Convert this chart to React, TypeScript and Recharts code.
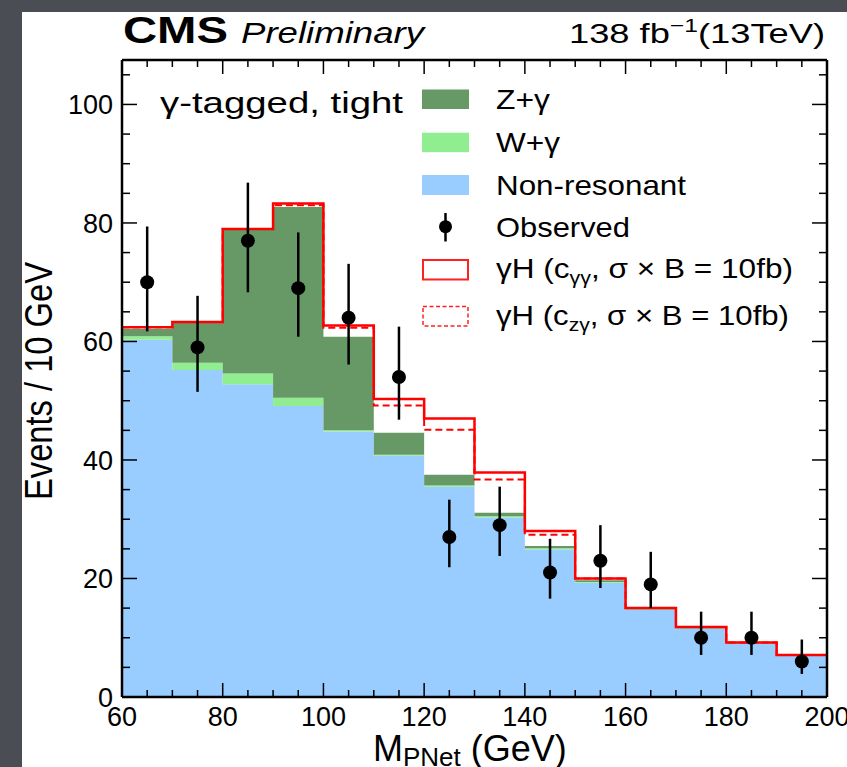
import React from "react";
import { ComposedChart, Area, Line, Scatter, ErrorBar, XAxis, YAxis, Legend } from "recharts";

// bin low edges (10 GeV bins)
const binEdges = [60, 70, 80, 90, 100, 110, 120, 130, 140, 150, 160, 170, 180, 190];
const nonResonant = [60.3, 55.2, 52.8, 49.1, 44.8, 40.7, 35.5, 30.3, 24.9, 19.3, 14.7, 11.5, 9.0, 6.9];
const wGamma = [0.6, 1.2, 1.8, 1.4, 0.2, 0.2, 0.2, 0.2, 0.2, 0.1, 0.05, 0.05, 0.05, 0.05];
const zGamma = [1.2, 6.7, 24.2, 32.2, 15.8, 3.7, 1.8, 0.6, 0.4, 0.3, 0.1, 0.1, 0.1, 0.05];
// background + signal (stacked totals)
const totalCgg = [62.4, 63.3, 79.0, 83.3, 62.7, 50.3, 47.0, 37.9, 28.0, 20.0, 15.0, 11.8, 9.2, 7.1];
const totalCzg = [62.4, 63.3, 79.0, 83.0, 62.3, 49.2, 45.1, 36.7, 27.4, 20.0, 15.0, 11.8, 9.2, 7.1];

const obsCenters = [65, 75, 85, 95, 105, 115, 125, 135, 145, 155, 165, 175, 185, 195];
const observed = [70, 59, 77, 69, 64, 54, 27, 29, 21, 23, 19, 10, 10, 6];
const obsErrLow = [8.3, 7.5, 8.7, 8.2, 7.9, 7.2, 5.1, 5.2, 4.4, 4.6, 4.0, 2.9, 2.9, 2.1];
const obsErrHigh = [9.4, 8.7, 9.8, 9.4, 9.1, 8.5, 6.3, 6.5, 5.7, 6.0, 5.5, 4.4, 4.4, 3.7];

const xTicks = [60, 65, 70, 75, 80, 85, 90, 95, 100, 105, 110, 115, 120, 125, 130, 135, 140, 145, 150, 155, 160, 165, 170, 175, 180, 185, 190, 195, 200];
const yTicks = [0, 5, 10, 15, 20, 25, 30, 35, 40, 45, 50, 55, 60, 65, 70, 75, 80, 85, 90, 95, 100, 105];

const FONT = "'Liberation Sans', Arial, Helvetica, sans-serif";

// last edge repeats the last bin so the step closes at 200
const histRows = [...binEdges, 200].map((x, i) => {
  const k = Math.min(i, binEdges.length - 1);
  return { x, nonRes: nonResonant[k], wg: wGamma[k], zg: zGamma[k], cgg: totalCgg[k], czg: totalCzg[k] };
});

const obsRows = obsCenters.map((x, i) => ({ x, y: observed[i], err: [obsErrLow[i], obsErrHigh[i]] }));

const isMajorX = (v: number) => v % 20 === 0;
const isMajorY = (v: number) => v % 20 === 0;

function BottomTick({ x, y, payload }: any) {
  const major = isMajorX(payload.value);
  return (
    <g>
      <line x1={x} x2={x} y1={y} y2={y - (major ? 14 : 7)} stroke="#000" strokeWidth={1.5} />
      {major && (
        <text x={x} y={y + 29} textAnchor="middle" fontSize={27} fontFamily={FONT} fill="#000">
          {payload.value}
        </text>
      )}
    </g>
  );
}

function TopTick({ x, y, payload }: any) {
  const major = isMajorX(payload.value);
  return <line x1={x} x2={x} y1={y} y2={y + (major ? 14 : 7)} stroke="#000" strokeWidth={1.5} />;
}

function LeftTick({ x, y, payload }: any) {
  const major = isMajorY(payload.value);
  return (
    <g>
      <line x1={x} x2={x + (major ? 15 : 8)} y1={y} y2={y} stroke="#000" strokeWidth={1.5} />
      {major && (
        <text x={x - 9} y={y + 9.7} textAnchor="end" fontSize={27} fontFamily={FONT} fill="#000">
          {payload.value}
        </text>
      )}
    </g>
  );
}

function RightTick({ x, y, payload }: any) {
  const major = isMajorY(payload.value);
  return <line x1={x} x2={x - (major ? 15 : 8)} y1={y} y2={y} stroke="#000" strokeWidth={1.5} />;
}

function LegendBox() {
  const tx = 96;
  return (
    <svg width={440} height={270} style={{ display: "block" }}>
      <g fontFamily={FONT} fontSize={28} fill="#000">
        <rect x={22} y={9.5} width={47} height={19.5} fill="#669966" />
        <text x={tx} y={28.5} textLength={54} lengthAdjust="spacingAndGlyphs">Z+γ</text>

        <rect x={22} y={52.7} width={47} height={19.5} fill="#90ee90" />
        <text x={tx} y={71.7} textLength={64} lengthAdjust="spacingAndGlyphs">W+γ</text>

        <rect x={22} y={95} width={47} height={20} fill="#99ccff" />
        <text x={tx} y={115} textLength={190} lengthAdjust="spacingAndGlyphs">Non-resonant</text>

        <line x1={45.5} x2={45.5} y1={133} y2={161.5} stroke="#000" strokeWidth={2.5} />
        <circle cx={45.5} cy={146.7} r={6.5} fill="#000" />
        <text x={tx} y={156.7} textLength={134} lengthAdjust="spacingAndGlyphs">Observed</text>

        <rect x={23} y={180} width={45} height={19.5} fill="#fff" stroke="#ff2020" strokeWidth={2} />
        <text x={tx} y={198} textLength={297} lengthAdjust="spacingAndGlyphs">
          γH (c<tspan fontSize={19} dy={6}>γγ</tspan>
          <tspan dy={-6}>,  σ × B = 10fb)</tspan>
        </text>

        <rect x={23} y={226.5} width={45} height={19.5} fill="#fff" stroke="#ff2020" strokeWidth={1.5} strokeDasharray="4 2.5" />
        <text x={tx} y={245} textLength={293} lengthAdjust="spacingAndGlyphs">
          γH (c<tspan fontSize={19} dy={6}>zγ</tspan>
          <tspan dy={-6}>,  σ × B = 10fb)</tspan>
        </text>
      </g>
    </svg>
  );
}

export default function App() {
  return (
    <div style={{ position: "absolute", left: 0, top: 0, width: 847, height: 767, background: "#4a4d53", overflow: "hidden" }}>
      <div style={{ position: "absolute", left: 22, top: 12, right: 0, bottom: 0, background: "#fff" }} />
      <div style={{ position: "absolute", left: 0, top: 0 }}>
        <ComposedChart width={847} height={767} data={histRows} margin={{ top: 59, right: 19, bottom: 0, left: 22 }}>
          <XAxis
            dataKey="x"
            type="number"
            domain={[60, 200]}
            allowDataOverflow
            ticks={xTicks}
            interval={0}
            tickSize={0}
            tickMargin={0}
            tickLine={false}
            axisLine={{ stroke: "#000", strokeWidth: 2.5 }}
            height={70}
            tick={(p: any) => <BottomTick {...p} />}
          />
          <XAxis
            xAxisId="top"
            orientation="top"
            dataKey="x"
            type="number"
            domain={[60, 200]}
            allowDataOverflow
            ticks={xTicks}
            interval={0}
            tickSize={0}
            tickMargin={0}
            tickLine={false}
            axisLine={{ stroke: "#000", strokeWidth: 2.5 }}
            height={1}
            tick={(p: any) => <TopTick {...p} />}
          />
          <YAxis
            type="number"
            domain={[0, 107.5]}
            allowDataOverflow
            ticks={yTicks}
            interval={0}
            tickSize={0}
            tickMargin={0}
            tickLine={false}
            axisLine={{ stroke: "#000", strokeWidth: 2.5 }}
            width={100}
            tick={(p: any) => <LeftTick {...p} />}
          />
          <YAxis
            yAxisId="right"
            orientation="right"
            type="number"
            domain={[0, 107.5]}
            allowDataOverflow
            ticks={yTicks}
            interval={0}
            tickSize={0}
            tickMargin={0}
            tickLine={false}
            axisLine={{ stroke: "#000", strokeWidth: 2.5 }}
            width={1}
            tick={(p: any) => <RightTick {...p} />}
          />
          <Area type="stepAfter" dataKey="nonRes" stackId="bkg" fill="#99ccff" fillOpacity={1} stroke="none" isAnimationActive={false} />
          <Area type="stepAfter" dataKey="wg" stackId="bkg" fill="#90ee90" fillOpacity={1} stroke="none" isAnimationActive={false} />
          <Area type="stepAfter" dataKey="zg" stackId="bkg" fill="#669966" fillOpacity={1} stroke="none" isAnimationActive={false} />
          <Line type="stepAfter" dataKey="czg" stroke="#ff0000" strokeWidth={2} strokeDasharray="7 4" dot={false} activeDot={false} isAnimationActive={false} />
          <Line type="stepAfter" dataKey="cgg" stroke="#ff0000" strokeWidth={2.5} dot={false} activeDot={false} isAnimationActive={false} />
          <Scatter
            data={obsRows}
            dataKey="y"
            fill="#000"
            isAnimationActive={false}
            shape={(p: any) => <circle cx={p.cx} cy={p.cy} r={7} fill="#000" />}
          >
            <ErrorBar dataKey="err" direction="y" width={0} stroke="#000" strokeWidth={2.5} isAnimationActive={false} />
          </Scatter>
          <Legend
            layout="vertical"
            align="center"
            verticalAlign="middle"
            wrapperStyle={{ position: "absolute", left: 400, top: 80, width: 440, height: 270, margin: 0 }}
            content={() => <LegendBox />}
          />
        </ComposedChart>
      </div>
      <svg width={847} height={767} style={{ position: "absolute", left: 0, top: 0, pointerEvents: "none" }}>
        <g fontFamily={FONT} fill="#000">
          <text x={123} y={43} fontSize={36} fontWeight="bold" textLength={105} lengthAdjust="spacingAndGlyphs">CMS</text>
          <text x={241} y={43} fontSize={30} fontStyle="italic" textLength={183} lengthAdjust="spacingAndGlyphs">Preliminary</text>
          <text x={569} y={43} fontSize={28} textLength={256} lengthAdjust="spacingAndGlyphs">
            138 fb<tspan fontSize={19} dy={-11}>−1</tspan>
            <tspan dy={11}>(13TeV)</tspan>
          </text>
          <text x={160} y={113} fontSize={30} textLength={243} lengthAdjust="spacingAndGlyphs">γ-tagged, tight</text>
          <text
            x={0}
            y={0}
            transform="translate(52 381) rotate(-90)"
            textAnchor="middle"
            fontSize={38}
            textLength={238}
            lengthAdjust="spacingAndGlyphs"
          >
            Events / 10 GeV
          </text>
          <text x={373} y={761} fontSize={36}>
            M<tspan fontSize={26} dy={5}>PNet</tspan>
            <tspan dy={-5}> (GeV)</tspan>
          </text>
        </g>
      </svg>
    </div>
  );
}
